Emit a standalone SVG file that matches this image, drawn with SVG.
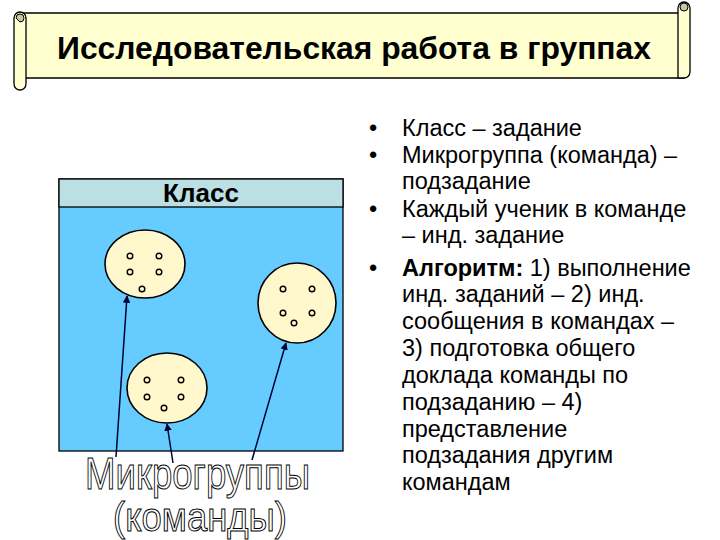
<svg xmlns="http://www.w3.org/2000/svg" width="720" height="540" viewBox="0 0 720 540">
<style>
.scroll{fill:#FFFFD0;stroke:#000;stroke-width:1.3}
.curl{fill:#C8C8A8;stroke:#000;stroke-width:1}
.title{font-family:"Liberation Sans",Arial,sans-serif;font-weight:bold;font-size:31px;fill:#000}
.group{fill:#FFF8CC;stroke:#000;stroke-width:1.6}
.kid{fill:#FFF8CC;stroke:#000;stroke-width:1.4}
.link{stroke:#000033;stroke-width:1.5;fill:none}
.outl{font-family:"Liberation Sans",Arial,sans-serif;fill:#fff;stroke:#000;stroke-width:1}
.txt{font-family:"Liberation Sans",Arial,sans-serif;font-size:23.5px;fill:#000}
</style>
<defs>
<marker id="ah" viewBox="0 0 10 10" refX="9" refY="5" markerWidth="5" markerHeight="5" orient="auto" markerUnits="strokeWidth">
<path d="M0,0 L10,5 L0,10 z" fill="#000033"/>
</marker>
</defs>
<rect width="720" height="540" fill="#fff"/>
<g id="title">
<path class="scroll" d="M20,13 L684,13 L684,78 L20,78 Z"/>
<path class="scroll" d="M678,78 L678,8 A6,6 0 0 1 690,8 L690,72 A6,6 0 0 1 684,78 Z"/>
<circle class="curl" cx="684" cy="7" r="4"/>
<path class="scroll" d="M14,18 A6,6 0 0 1 26,18 L26,84 A6,6 0 0 1 14,84 Z"/>
<path class="curl" d="M16,18 A4,4 0 0 1 24,18 A4,4 0 0 1 20,22 Z"/>
<text class="title" x="57" y="59" textLength="594" lengthAdjust="spacingAndGlyphs">Исследовательская работа в группах</text>
</g>
<g id="class">
<rect x="59" y="179" width="284" height="272" fill="#66CCFF" stroke="#000" stroke-width="1.3"/>
<rect x="59" y="179" width="284" height="28" fill="#BBDFE2" stroke="#000" stroke-width="1.3"/>
<text x="201" y="202" text-anchor="middle" style="font-family:'Liberation Sans',Arial,sans-serif;font-weight:bold;font-size:26px">Класс</text>
</g>
<g id="group1">
<ellipse class="group" cx="145" cy="264" rx="40" ry="34"/>
<circle class="kid" cx="130" cy="256" r="2.8"/><circle class="kid" cx="159" cy="256" r="2.8"/>
<circle class="kid" cx="130" cy="272" r="2.8"/><circle class="kid" cx="159" cy="272" r="2.8"/>
<circle class="kid" cx="142" cy="289" r="2.8"/>
</g>
<g id="group2">
<ellipse class="group" cx="297" cy="303" rx="39" ry="40"/>
<circle class="kid" cx="283" cy="289" r="2.8"/><circle class="kid" cx="312" cy="289" r="2.8"/>
<circle class="kid" cx="283" cy="313" r="2.8"/><circle class="kid" cx="312" cy="313" r="2.8"/>
<circle class="kid" cx="294" cy="323" r="2.8"/>
</g>
<g id="group3">
<ellipse class="group" cx="167" cy="388" rx="40" ry="35"/>
<circle class="kid" cx="147" cy="380" r="2.8"/><circle class="kid" cx="181" cy="380" r="2.8"/>
<circle class="kid" cx="147" cy="397" r="2.8"/><circle class="kid" cx="181" cy="397" r="2.8"/>
<circle class="kid" cx="164" cy="408" r="2.8"/>
</g>
<g id="connectors">
<line class="link" x1="116" y1="457" x2="127" y2="296" marker-end="url(#ah)"/>
<line class="link" x1="173" y1="463" x2="167" y2="424" marker-end="url(#ah)"/>
<line class="link" x1="252" y1="460" x2="286" y2="343" marker-end="url(#ah)"/>
</g>
<g id="label">
<text class="outl" x="85" y="489" font-size="44" textLength="225" lengthAdjust="spacingAndGlyphs">Микрогруппы</text>
<text class="outl" x="113" y="531" font-size="40" textLength="174" lengthAdjust="spacingAndGlyphs">(команды)</text>
</g>
<g id="bullets" class="txt">
<text x="369" y="136">•</text><text x="402" y="136">Класс – задание</text>
<text x="369" y="163">•</text><text x="402" y="163">Микрогруппа (команда) –</text>
<text x="402" y="189">подзадание</text>
<text x="369" y="217">•</text><text x="402" y="217">Каждый ученик в команде</text>
<text x="402" y="243">– инд. задание</text>
<text x="369" y="276">•</text><text x="402" y="276"><tspan font-weight="bold">Алгоритм:</tspan> 1) выполнение</text>
<text x="402" y="302">инд. заданий – 2) инд.</text>
<text x="402" y="329">сообщения в командах –</text>
<text x="402" y="356">3) подготовка общего</text>
<text x="402" y="383">доклада команды по</text>
<text x="402" y="410">подзаданию – 4)</text>
<text x="402" y="437">представление</text>
<text x="402" y="463">подзадания другим</text>
<text x="402" y="490">командам</text>
</g>
</svg>
